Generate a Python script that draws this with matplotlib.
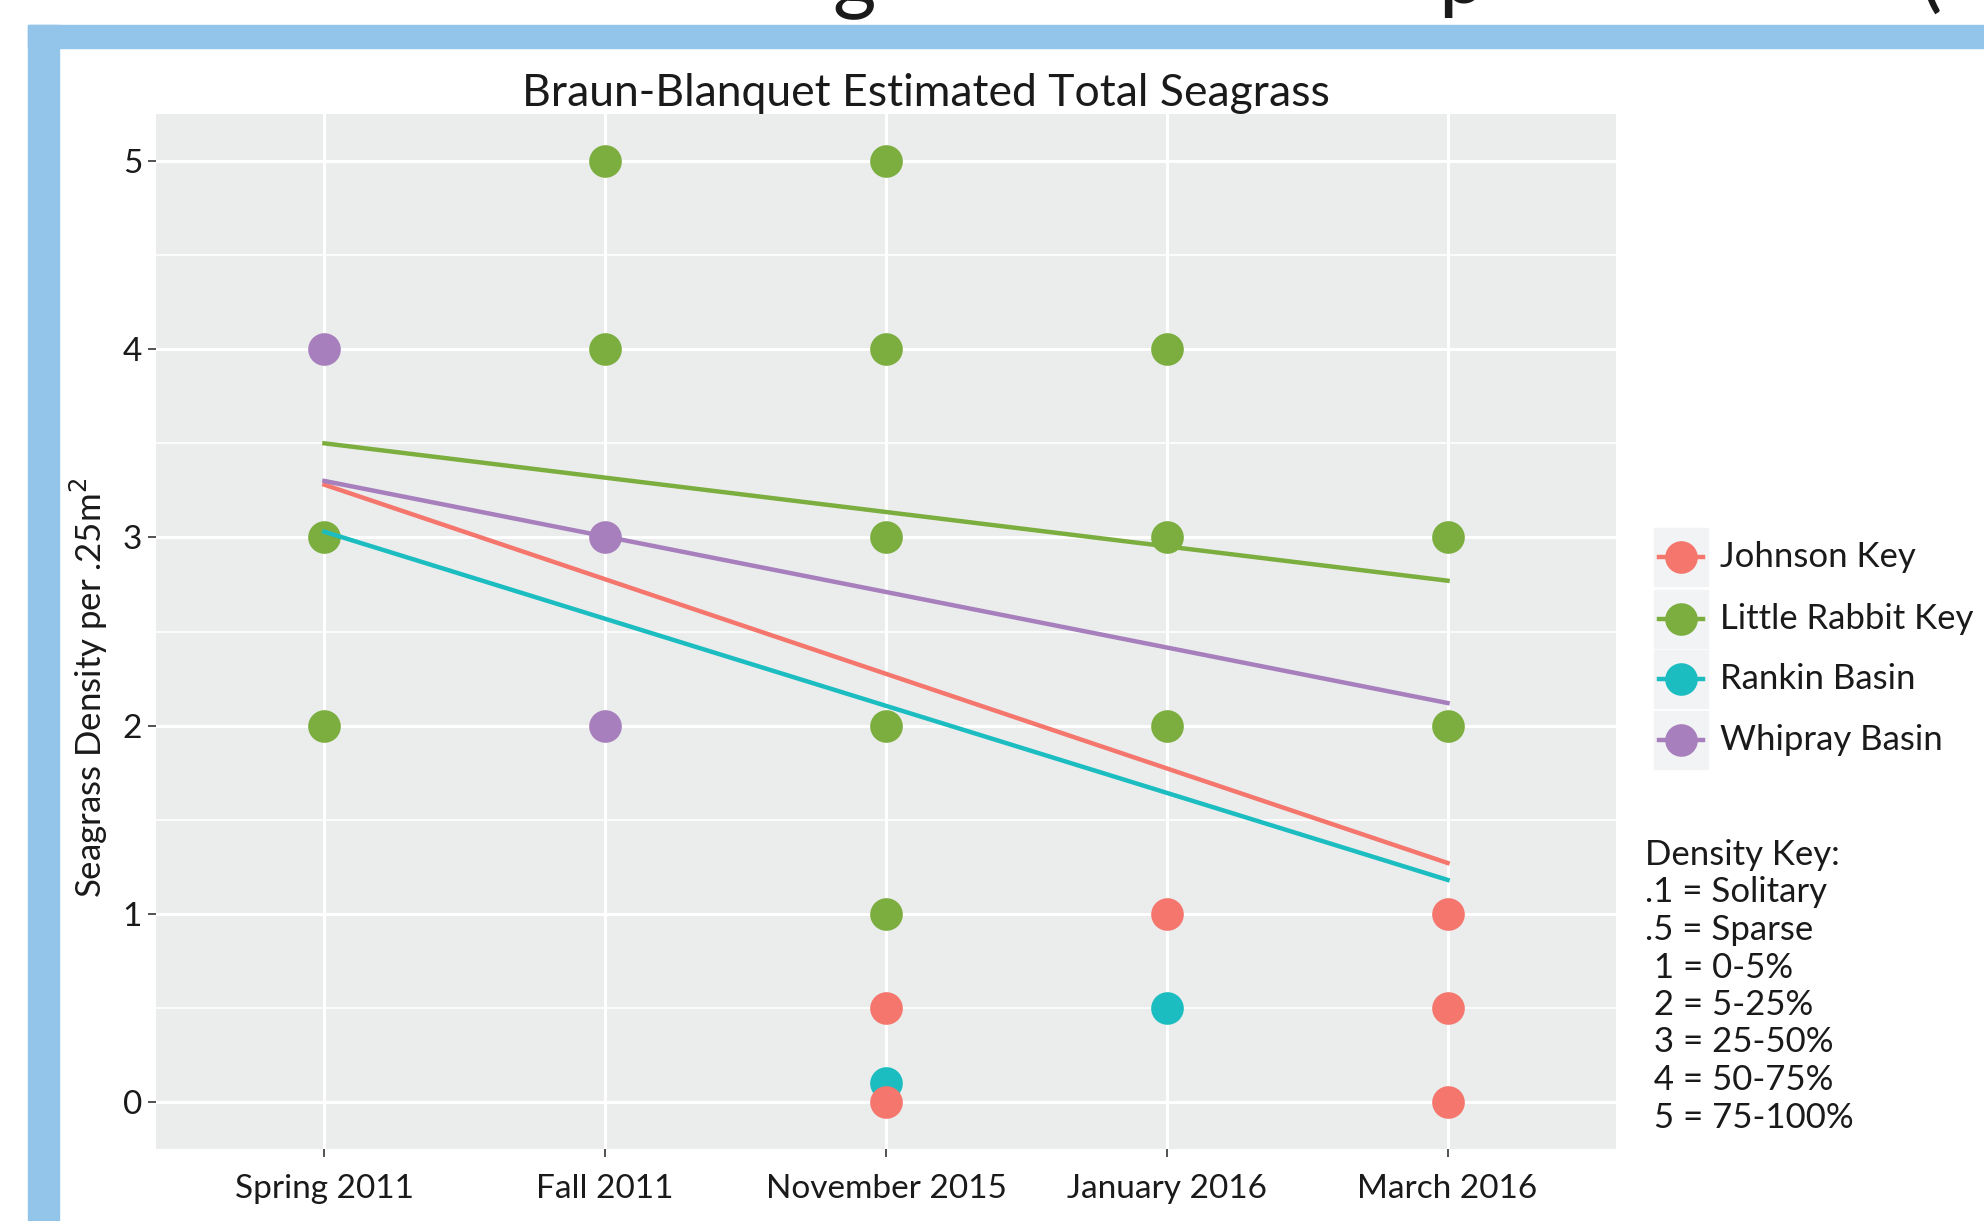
import matplotlib.pyplot as plt
import matplotlib.patches as mpatches
from matplotlib.lines import Line2D
import numpy as np

plt.rcParams['font.family'] = ['Lato', 'DejaVu Sans']

# categories on the x axis
periods = ['Spring 2011', 'Fall 2011', 'November 2015', 'January 2016', 'March 2016']

# observed densities per site (period, value)
rankin_x = ['November 2015', 'January 2016']
rankin_y = [0.1, 0.5]
johnson_x = ['November 2015', 'November 2015', 'January 2016', 'March 2016', 'March 2016', 'March 2016']
johnson_y = [0.5, 0, 1, 1, 0.5, 0]
rabbit_x = ['Spring 2011', 'Spring 2011', 'Fall 2011', 'Fall 2011',
            'November 2015', 'November 2015', 'November 2015', 'November 2015', 'November 2015',
            'January 2016', 'January 2016', 'January 2016', 'March 2016', 'March 2016']
rabbit_y = [3, 2, 5, 4, 5, 4, 3, 2, 1, 4, 3, 2, 3, 2]
whipray_x = ['Spring 2011', 'Fall 2011', 'Fall 2011']
whipray_y = [4, 3, 2]

# fitted trend lines, value at Spring 2011 and at March 2016
sites = ['Johnson Key', 'Little Rabbit Key', 'Rankin Basin', 'Whipray Basin']
trend_start = [3.28, 3.50, 3.03, 3.30]
trend_end = [1.27, 2.77, 1.18, 2.12]
colors = ['#F4766D', '#7BAE3E', '#1CBDC1', '#A67FBC']

density_key = ['Density Key:', '.1 = Solitary', '.5 = Sparse', ' 1 = 0-5%',
               ' 2 = 5-25%', ' 3 = 25-50%', ' 4 = 50-75%', ' 5 = 75-100%']

W, H = 1984, 1221
fig = plt.figure(figsize=(W / 100, H / 100), dpi=100)

# slide frame
fig.patches.append(mpatches.Rectangle((28 / W, 0), 31 / W, 1 - 25 / H, transform=fig.transFigure,
                                      color='#93C5EA', zorder=0))
fig.patches.append(mpatches.Rectangle((28 / W, 1 - 48 / H), 1, 23 / H, transform=fig.transFigure,
                                      color='#93C5EA', zorder=0))
# cut-off slide heading (only descenders visible)
for ch, xp in [('g', 854), ('p', 1462), ('(', 1930)]:
    fig.text(xp / W, 1 - 3 / H, ch, fontsize=60, ha='center', va='baseline', color='#1a1a1a')

ax = fig.add_axes([156 / W, 1 - 1149 / H, (1616 - 156) / W, (1149 - 114) / H])
ax.set_facecolor('#EBECEC')
for s in ax.spines.values():
    s.set_visible(False)

pos = {p: i for i, p in enumerate(periods)}
groups = [(rankin_x, rankin_y, colors[2]), (johnson_x, johnson_y, colors[0]),
          (rabbit_x, rabbit_y, colors[1]), (whipray_x, whipray_y, colors[3])]
for gx, gy, c in groups:
    ax.plot([pos[p] for p in gx], gy, 'o', ms=23.5, color=c, mec='none', zorder=3)

for i in range(len(sites)):
    ax.plot([0, len(periods) - 1], [trend_start[i], trend_end[i]], '-', lw=3.2, color=colors[i], zorder=4)

ax.set_xlim(-0.6, len(periods) - 0.4)
ax.set_ylim(-0.25, 5.25)
ax.set_xticks(range(len(periods)))
ax.set_xticklabels(periods)
ax.set_yticks([0, 1, 2, 3, 4, 5])
ax.set_yticks([0.5, 1.5, 2.5, 3.5, 4.5], minor=True)
ax.grid(which='major', color='white', lw=2.2, zorder=0)
ax.grid(which='minor', axis='y', color='white', lw=1.2, zorder=0)
ax.set_axisbelow(True)
ax.tick_params(which='major', length=6, width=1.2, color='#333333', labelsize=24, labelcolor='#1a1a1a', pad=4)
ax.tick_params(axis='x', pad=12)
ax.tick_params(which='minor', length=0)
title = ax.set_title('Braun-Blanquet Estimated Total Seagrass', fontsize=32, pad=4, color='#1a1a1a')
title.set_x(0.5 + 40 / 1460)
ax.set_ylabel('Seagrass Density per .25m$^2$', fontsize=25, color='#1a1a1a')
ax.yaxis.set_label_coords(-46 / 1460, 0.445)

# legend
rows = [557, 619, 679, 740]
for i, name in enumerate(sites):
    yc = 1 - rows[i] / H
    fig.patches.append(mpatches.Rectangle((1654 / W, yc - 29 / H), 54 / W, 58 / H, transform=fig.transFigure,
                                          color='#F2F3F4', zorder=1))
    fig.lines.append(Line2D([1659 / W, 1703 / W], [yc, yc], transform=fig.transFigure, lw=3.2,
                            color=colors[i], zorder=2))
    fig.lines.append(Line2D([1681 / W], [yc], transform=fig.transFigure, marker='o', ms=23.5,
                            color=colors[i], mec='none', zorder=3))
    fig.text(1720 / W, yc, name, fontsize=25, va='center', ha='left', color='#1a1a1a')

for i, line in enumerate(density_key):
    fig.text(1645 / W, 1 - (855 + 37.5 * i) / H, line, fontsize=25, va='center', ha='left', color='#1a1a1a')

fig.savefig('out.png', dpi=100)
